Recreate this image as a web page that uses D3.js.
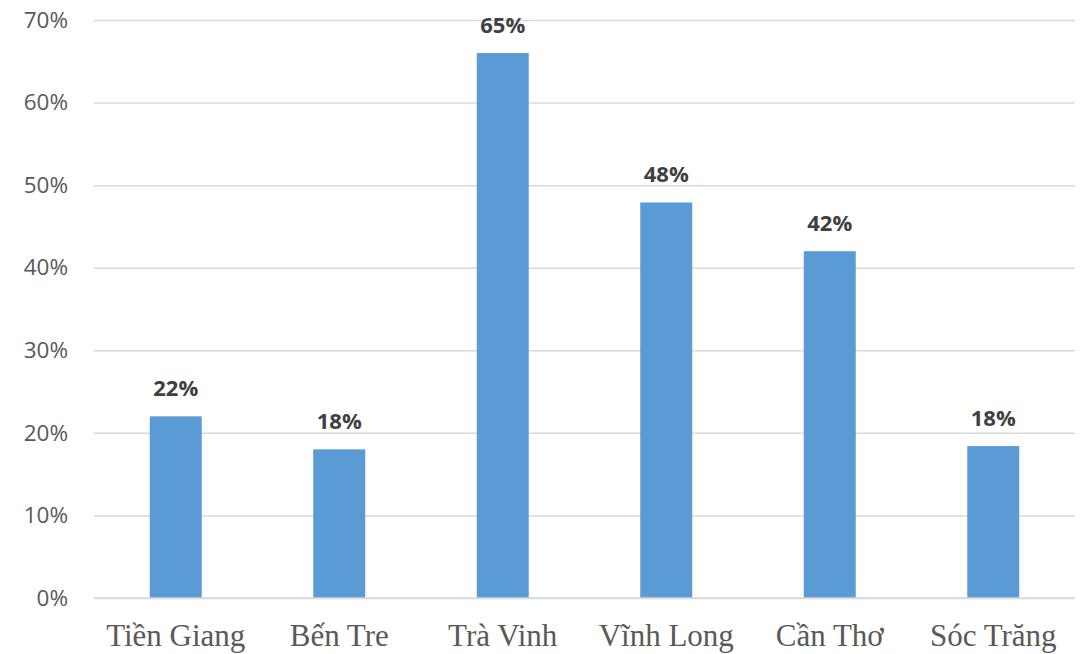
<!DOCTYPE html>
<html>
<head>
<meta charset="utf-8">
<script src="https://cdn.jsdelivr.net/npm/d3@7"></script>
<style>
  body { margin: 0; background: #fff; }
</style>
</head>
<body>
<script>
// chart data
var categories = ["Tiền Giang", "Bến Tre", "Trà Vinh", "Vĩnh Long", "Cần Thơ", "Sóc Trăng"];
var values = [22.0, 18.0, 66.0, 47.9, 42.0, 18.4];
var valueLabels = ["22%", "18%", "65%", "48%", "42%", "18%"];
var yTicks = [0, 10, 20, 30, 40, 50, 60, 70];

var width = 1086, height = 654;
var margin = {top: 20, right: 11, bottom: 56, left: 94};

var svg = d3.select("body").append("svg")
    .attr("width", width)
    .attr("height", height);

var x = d3.scaleBand()
    .domain(categories)
    .range([margin.left, width - margin.right])
    .paddingInner(0.682)
    .paddingOuter(0.341);

var y = d3.scaleLinear()
    .domain([0, 70])
    .range([height - margin.bottom, margin.top]);

// gridlines + y labels
var yAxis = svg.append("g")
    .attr("transform", "translate(" + margin.left + ",0)")
    .call(d3.axisLeft(y)
        .tickValues(yTicks)
        .tickSize(-(width - margin.left - margin.right))
        .tickPadding(26)
        .tickFormat(function(d) { return d + "%"; }));

yAxis.select(".domain").remove();
yAxis.selectAll(".tick line")
    .attr("stroke", "#d9d9d9")
    .attr("stroke-width", 1.5);
yAxis.selectAll(".tick text")
    .attr("fill", "#595959")
    .style("font-family", "'Open Sans', sans-serif")
    .style("font-size", "22.5px");

// bars
svg.selectAll(".bar").data(values)
    .enter().append("rect")
    .attr("class", "bar")
    .attr("x", function(d, i) { return x(categories[i]); })
    .attr("y", function(d) { return y(d); })
    .attr("width", x.bandwidth())
    .attr("height", function(d) { return y(0) - y(d); })
    .attr("fill", "#5b9bd5");

// bottom axis line
svg.append("line")
    .attr("x1", margin.left)
    .attr("x2", width - margin.right)
    .attr("y1", y(0))
    .attr("y2", y(0))
    .attr("stroke", "#d9d9d9")
    .attr("stroke-width", 1.5);

// data labels
svg.selectAll(".lbl").data(values)
    .enter().append("text")
    .attr("class", "lbl")
    .attr("x", function(d, i) { return x(categories[i]) + x.bandwidth() / 2; })
    .attr("y", function(d) { return y(d) - 20; })
    .attr("text-anchor", "middle")
    .attr("fill", "#404040")
    .style("font-family", "'Open Sans', sans-serif")
    .style("font-weight", "bold")
    .style("font-size", "22px")
    .text(function(d, i) { return valueLabels[i]; });

// category labels
svg.selectAll(".cat").data(categories)
    .enter().append("text")
    .attr("class", "cat")
    .attr("x", function(d) { return x(d) + x.bandwidth() / 2; })
    .attr("y", height - 8)
    .attr("text-anchor", "middle")
    .attr("fill", "#595959")
    .style("font-family", "'Liberation Serif', serif")
    .style("font-size", "31px")
    .text(function(d) { return d; });
</script>
</body>
</html>
